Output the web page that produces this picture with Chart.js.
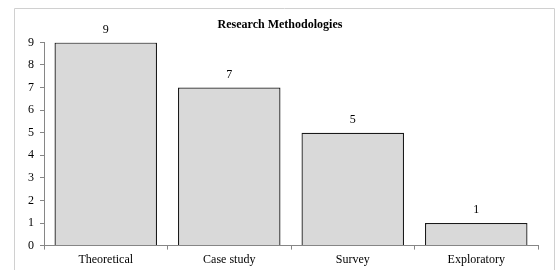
<!DOCTYPE html>
<html>
<head>
<meta charset="utf-8">
<script src="https://cdn.jsdelivr.net/npm/chart.js@4/dist/chart.umd.min.js"></script>
<style>
  html, body { margin: 0; padding: 0; background: #fff; }
  #wrap { position: relative; width: 558px; height: 270px; }
</style>
</head>
<body>
<div id="wrap"><canvas id="methodChart" width="558" height="270"></canvas></div>
<script>
// data
const categories = ['Theoretical', 'Case study', 'Survey', 'Exploratory'];
const counts = [9, 7, 5, 1];
const yTicks = [0, 1, 2, 3, 4, 5, 6, 7, 8, 9];

const serif = "'Liberation Serif', 'Times New Roman', serif";

// light grey frame round the chart
const framePlugin = {
  id: 'frame',
  beforeDraw(chart) {
    const ctx = chart.ctx;
    ctx.save();
    ctx.strokeStyle = '#d0d0d0';
    ctx.lineWidth = 1;
    ctx.beginPath();
    ctx.moveTo(14.5, 300);
    ctx.lineTo(14.5, 8.5);
    ctx.lineTo(554.5, 8.5);
    ctx.lineTo(554.5, 300);
    ctx.stroke();
    ctx.restore();
  }
};

// value labels above the bars
const valueLabels = {
  id: 'valueLabels',
  afterDatasetsDraw(chart) {
    const ctx = chart.ctx;
    const meta = chart.getDatasetMeta(0);
    ctx.save();
    ctx.font = '12px ' + serif;
    ctx.fillStyle = '#000';
    ctx.textAlign = 'center';
    ctx.textBaseline = 'middle';
    meta.data.forEach(function (bar, i) {
      ctx.fillText(String(counts[i]), bar.x, bar.y - 13);
    });
    ctx.restore();
  }
};

new Chart(document.getElementById('methodChart'), {
  type: 'bar',
  data: {
    labels: categories,
    datasets: [{
      data: counts,
      backgroundColor: '#d9d9d9',
      borderColor: '#1a1a1a',
      borderWidth: 1.3,
      borderSkipped: 'start',
      categoryPercentage: 1,
      barPercentage: 0.83
    }]
  },
  options: {
    responsive: false,
    animation: false,
    layout: { padding: { top: 10, left: 22, right: 20, bottom: 0 } },
    plugins: {
      legend: { display: false },
      tooltip: { enabled: false },
      title: {
        display: true,
        text: 'Research Methodologies',
        color: '#000',
        font: { family: serif, size: 12, weight: 'bold' },
        padding: { top: 8, bottom: 10 }
      }
    },
    scales: {
      x: {
        grid: { display: true, drawOnChartArea: false, color: '#868686', tickLength: 4, offset: true },
        border: { display: true, color: '#868686' },
        ticks: { color: '#000', font: { family: serif, size: 12 }, padding: 3 }
      },
      y: {
        min: 0,
        max: 9,
        afterBuildTicks(scale) {
          scale.ticks = yTicks.map(v => ({ value: v }));
        },
        grid: { display: true, drawOnChartArea: false, color: '#868686', tickLength: 4 },
        border: { display: true, color: '#868686' },
        ticks: { color: '#000', font: { family: serif, size: 12 }, padding: 6, stepSize: 1 }
      }
    }
  },
  plugins: [framePlugin, valueLabels]
});
</script>
</body>
</html>
